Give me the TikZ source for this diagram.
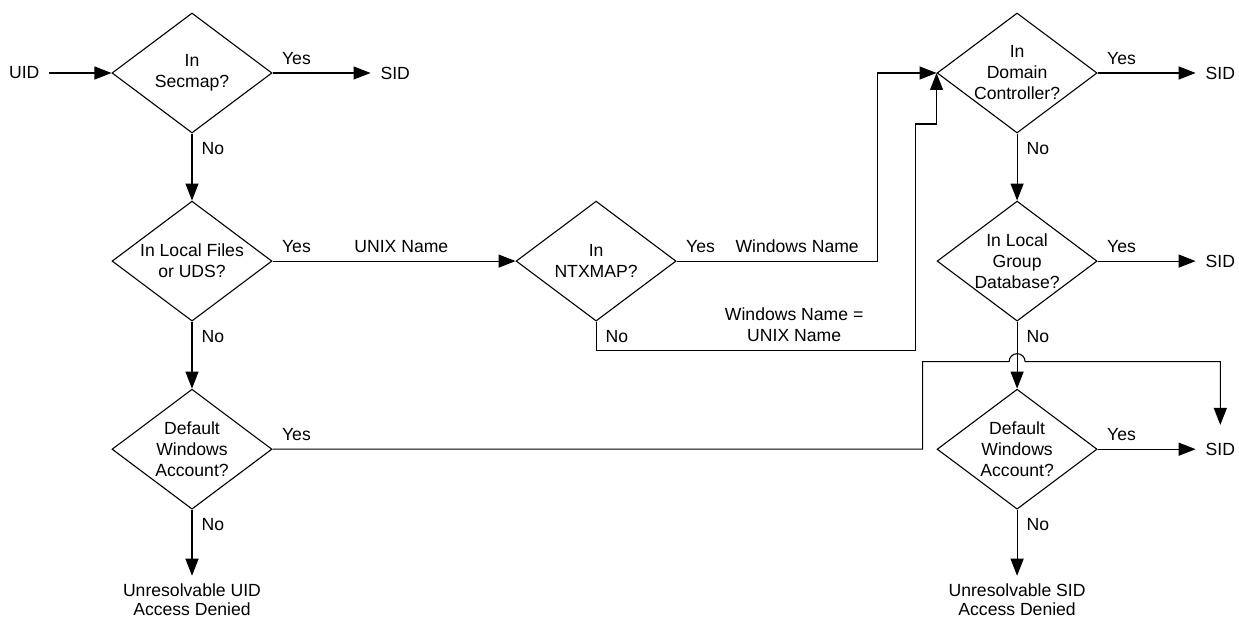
\documentclass[tikz,border=0pt]{standalone}
\usepackage{fontspec}
\setmainfont{Liberation Sans}
\usetikzlibrary{shapes.geometric, arrows.meta, positioning}

\tikzset{
  decision/.style={diamond, draw, line width=0.55pt, minimum width=80pt, minimum height=60pt, inner sep=-6pt, align=center},
  terminal/.style={inner sep=0pt, outer sep=5pt, align=center},
  verdict/.style={terminal, outer ysep=4pt, font=\fontsize{8.8}{9.3}\selectfont},
  lbl/.style={inner xsep=4.5pt, inner ysep=4pt, align=center},
  flow/.style={draw, line width=0.55pt, -{Triangle[length=8.5pt, width=6.5pt]}},
}

\begin{document}
\begin{tikzpicture}[font=\fontsize{8.8}{10.5}\selectfont]
		\useasboundingbox (0,0) rectangle (619.5pt,-310pt);

		\node[decision] (secmap) at (96pt,-36.5pt) {In\\Secmap?};
		\node[decision, below=33.5pt of secmap] (local) {In Local Files\\or UDS?};
		\node[decision, below=33.5pt of local] (dwa1) {Default\\Windows\\Account?};
		\node[decision, right=121.5pt of local] (ntx) {In\\NTXMAP?};
		\node[decision, right=332pt of secmap] (dc) {In\\Domain\\Controller?};
		\node[decision, below=33.5pt of dc] (lgd) {In Local\\Group\\Database?};
		\node[decision, below=33.5pt of lgd] (dwa2) {Default\\Windows\\Account?};

		\node[terminal, left=31pt of secmap] (uid) {UID};
		\node[terminal, right=49pt of secmap] (sid1) {SID};
		\node[terminal, right=49pt of dc] (sid2) {SID};
		\node[terminal, right=49pt of lgd] (sid3) {SID};
		\node[terminal, right=49pt of dwa2] (sid4) {SID};
		\node[verdict, below=33pt of dwa1] (deny1) {Unresolvable UID\\Access Denied};
		\node[verdict, below=33pt of dwa2] (deny2) {Unresolvable SID\\Access Denied};

		\coordinate (jump) at ([yshift=-20pt]lgd.south);

		\draw[flow] (uid) -- (secmap);
		\draw[flow] (secmap.east) -- node[lbl, above right, pos=0] {Yes} (sid1);
		\draw[flow] (secmap.south) -- node[lbl, below right, pos=0] {No} (local);

		\draw[flow] (local.east) -- node[lbl, above right, pos=0] {Yes}
			node[lbl, above, pos=0.53] {UNIX Name} (ntx.west);
		\draw[flow] (local.south) -- node[lbl, below right, pos=0] {No} (dwa1);

		\draw[flow] (ntx.east) -| node[lbl, above right, pos=0] {Yes}
			node[lbl, above, pos=0.3] {Windows Name} ([xshift=-29.5pt]dc.west) -- (dc.west);
		\draw[flow] (ntx.south) -- node[lbl, below right, pos=0] {No} ++(0,-14.5pt)
			-| node[lbl, above, pos=0.31] {Windows Name =\\UNIX Name} ([xshift=-10.5pt, yshift=-25.5pt]dc.west)
			-| (dc.west);

		\draw[flow] (dc.east) -- node[lbl, above right, pos=0] {Yes} (sid2);
		\draw[flow] (dc.south) -- node[lbl, below right, pos=0] {No} (lgd);

		\draw[flow] (lgd.east) -- node[lbl, above right, pos=0] {Yes} (sid3);
		\draw[flow] (lgd.south) -- node[lbl, below right, pos=0] {No} (dwa2);

		\draw[flow] (dwa1.east) -- node[lbl, above right, pos=0] {Yes} ([xshift=-7pt]dwa2.west)
			|- ([xshift=-4pt]jump) arc[start angle=180, end angle=0, radius=4pt]
			-| ([yshift=4pt]sid4.north);
		\draw[flow] (dwa1.south) -- node[lbl, below right, pos=0] {No} (deny1);

		\draw[flow] (dwa2.east) -- node[lbl, above right, pos=0] {Yes} (sid4);
		\draw[flow] (dwa2.south) -- node[lbl, below right, pos=0] {No} (deny2);
\end{tikzpicture}
\end{document}
